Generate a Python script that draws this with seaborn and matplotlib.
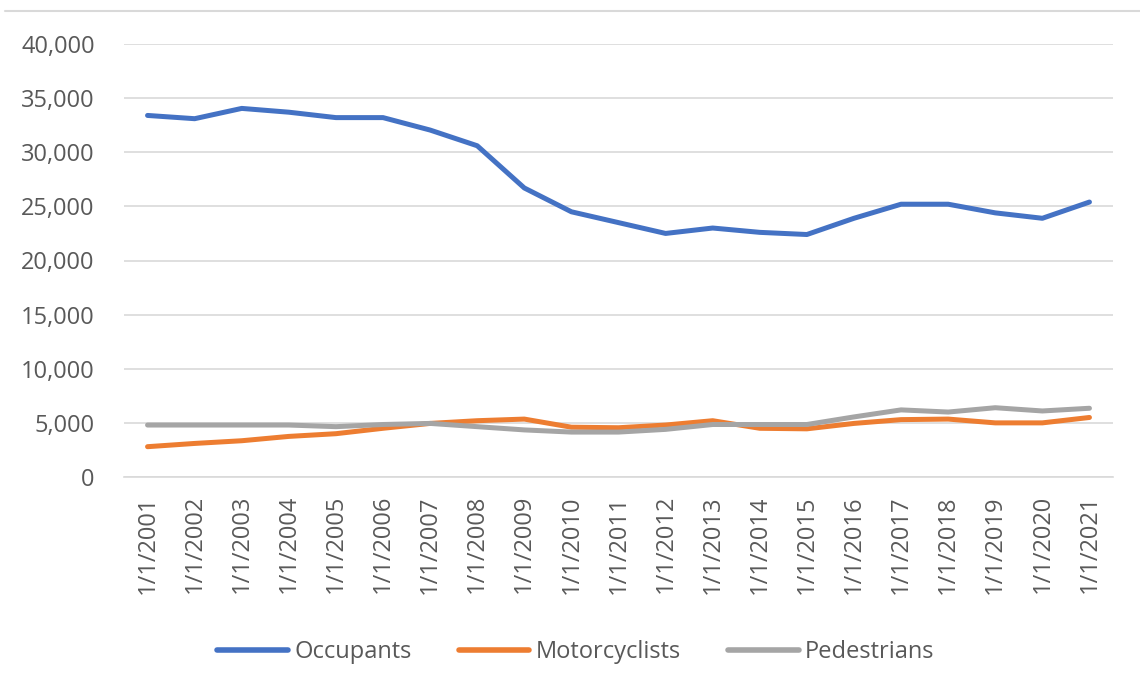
import matplotlib
matplotlib.use("Agg")
import matplotlib.pyplot as plt
import seaborn as sns
import pandas as pd
import numpy as np
from matplotlib.ticker import FuncFormatter, FixedLocator
from matplotlib.lines import Line2D

years = [f"1/1/{y}" for y in range(2001, 2022)]
occupants = [33400, 33100, 34050, 33700, 33200, 33200, 32050, 30600, 26700, 24500,
             23500, 22500, 23000, 22600, 22400, 23900, 25200, 25200, 24400, 23900, 25400]
motorcyclists = [2800, 3100, 3350, 3750, 4000, 4500, 4950, 5200, 5350, 4600,
                 4550, 4800, 5200, 4500, 4450, 4950, 5300, 5350, 5000, 5000, 5500]
pedestrians = [4800, 4800, 4800, 4800, 4650, 4850, 4950, 4650, 4350, 4150,
               4150, 4400, 4850, 4850, 4850, 5550, 6200, 6000, 6400, 6100, 6350]
series_names = ["Occupants", "Motorcyclists", "Pedestrians"]
colors = ["#4472C4", "#ED7D31", "#A5A5A5"]

df = pd.DataFrame({
    "idx": list(range(len(years))) * 3,
    "value": occupants + motorcyclists + pedestrians,
    "series": sum([[n] * len(years) for n in series_names], []),
})

sns.set_theme(style="white")
plt.rcParams['font.family'] = ['Open Sans', 'DejaVu Sans']

fig = plt.figure(figsize=(11.4, 6.85), dpi=100)
ax = fig.add_axes([124/1140, 1-477/685, (1113-124)/1140, (477-44)/685])

sns.lineplot(data=df, x="idx", y="value", hue="series", palette=colors,
             hue_order=series_names, linewidth=3.6, ax=ax, legend=False)

ax.set_xlim(-0.5, len(years) - 0.5)
ax.set_ylim(0, 40000)
ax.set_yticks(np.arange(0, 40001, 5000))
ax.yaxis.set_major_formatter(FuncFormatter(lambda v, p: f"{int(v):,}"))
ax.grid(axis="y", color="#D9D9D9", linewidth=1.2)
ax.set_axisbelow(True)

ax.set_xticks(range(len(years)))
ax.set_xticklabels(years, rotation=90)
ax.xaxis.set_minor_locator(FixedLocator(np.arange(-0.5, len(years), 1.0)))
ax.tick_params(axis="x", which="major", length=0, pad=13, labelsize=17, labelcolor="#595959")
ax.tick_params(axis="x", which="minor", length=7, width=1.2, color="#D9D9D9", direction="out")
ax.tick_params(axis="y", length=0, pad=21, labelsize=17, labelcolor="#595959")

for s in ["top", "right", "left"]:
    ax.spines[s].set_visible(False)
ax.spines["bottom"].set_color("#D9D9D9")
ax.spines["bottom"].set_linewidth(1.2)
ax.set_xlabel("")
ax.set_ylabel("")

# thin frame line at the top edge of the (cropped) chart area
fig.add_artist(Line2D([5/1140, 1.0], [1-10.5/685, 1-10.5/685], color="#D9D9D9",
                      linewidth=1.5, transform=fig.transFigure))

handles = [Line2D([0], [0], color=c, linewidth=4) for c in colors]
fig.legend(handles, series_names, loc="center", bbox_to_anchor=(0.505, 1-652/685),
           ncol=3, frameon=False, fontsize=17, handlelength=3.0, handletextpad=0.25,
           columnspacing=2.0, labelcolor="#595959")

fig.savefig("out.png", dpi=100)
